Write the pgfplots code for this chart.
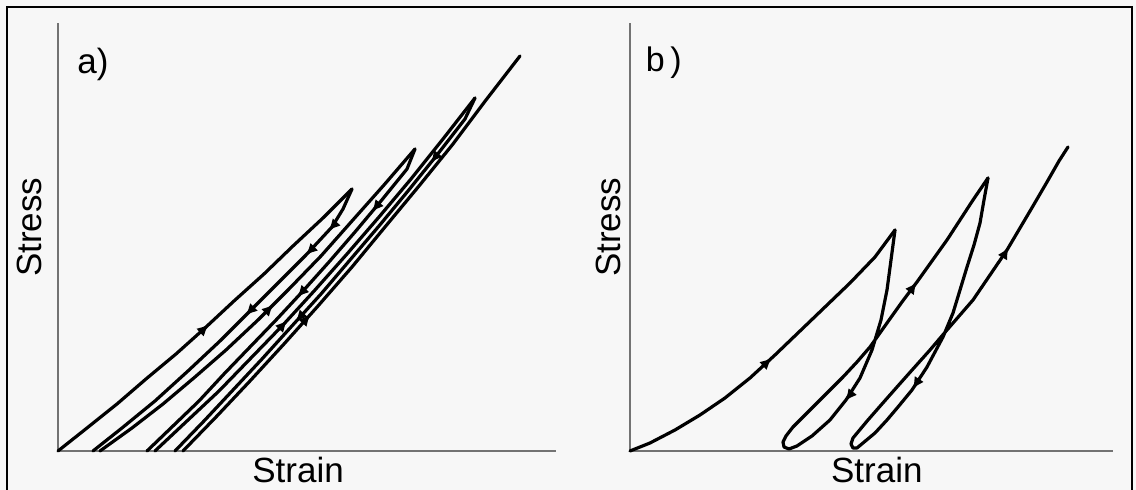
\documentclass[border=0pt]{standalone}
\usepackage{pgfplots}
\pgfplotsset{compat=1.18}
\usepackage{fontspec}
\setmainfont{Liberation Sans}
\usetikzlibrary{decorations.markings,arrows.meta}
\tikzset{myarr/.tip={Latex[length=6pt,width=5.5pt]}}
\pgfplotsset{
  panel/.style={
    scale only axis, height=214pt,
    ymin=0, ymax=428,
    axis x line=bottom, axis y line=left,
    axis line style={-, black!55, line width=0.8pt},
    xtick=\empty, ytick=\empty, clip=false,
    label style={font=\fontsize{17.5}{21}\selectfont},
  },
  curve/.style={black, line width=1.6pt, line join=round, line cap=round, mark=none},
}
\begin{document}
\begin{tikzpicture}[x=0.5pt,y=0.5pt]
\fill[white!97!black] (0,0) rectangle (1136,490);
\path[use as bounding box] (0,0) rectangle (1136,490);
\draw[line width=1.1pt] (7,-5) -- (7,483) -- (1132,483) -- (1132,-5);

% ---------------- panel a ----------------
\begin{axis}[panel, at={(29pt,19.5pt)}, anchor=south west,
  width=249pt, xmin=0, xmax=498,
  xlabel={Strain}, ylabel={Stress},
  xlabel style={at={(axis description cs:0.482,-0.044)}, anchor=center},
  ylabel style={at={(axis description cs:-0.058,0.523)}, anchor=center}]
\node[font=\fontsize{17.5}{21}\selectfont] at (axis description cs:0.070,0.902) {a)};
% loading from origin
\addplot[curve, postaction={decorate}, decoration={markings,
  mark=at position 0.5 with {\arrow{myarr}}}] coordinates {
(0,0)(29,23)(59,47)(88,72)(118,97)(147,123)(176,150)(206,177)(235,205)(265,233)(294,262)};
% unloading 1
\addplot[curve, postaction={decorate}, decoration={markings,
  mark=at position 0.13 with {\arrow{myarr}},
  mark=at position 0.22 with {\arrow{myarr}},
  mark=at position 0.45 with {\arrow{myarr}}}] coordinates {
(294,262)(285,242)(274,224)(248,196)(218,166)(190,138)(162,110)(130,80)(97,50)(64,23)(35,0)};
% reloading 1
\addplot[curve, postaction={decorate}, decoration={markings,
  mark=at position 0.52 with {\arrow{myarr}}}] coordinates {
(42,0)(74,23)(105,47)(137,74)(168,101)(200,131)(231,162)(263,195)(294,230)(326,266)(357,302)};
% unloading 2
\addplot[curve, postaction={decorate}, decoration={markings,
  mark=at position 0.19 with {\arrow{myarr}},
  mark=at position 0.47 with {\arrow{myarr}}}] coordinates {
(357,302)(349,282)(323,250)(297,219)(271,189)(245,160)(219,132)(192,104)(166,77)(141,50)(115,25)(89,0)};
% reloading 2
\addplot[curve, postaction={decorate}, decoration={markings,
  mark=at position 0.39 with {\arrow{myarr}}}] coordinates {
(97,0)(129,30)(161,60)(193,93)(225,126)(257,161)(289,197)(321,234)(353,272)(385,312)(417,353)};
% unloading 3
\addplot[curve, postaction={decorate}, decoration={markings,
  mark=at position 0.17 with {\arrow{myarr}},
  mark=at position 0.62 with {\arrow{myarr}}}] coordinates {
(417,353)(407,332)(379,296)(350,260)(321,225)(292,191)(263,157)(233,124)(204,92)(175,61)(146,30)(117,0)};
% reloading 3
\addplot[curve, postaction={decorate}, decoration={markings,
  mark=at position 0.36 with {\arrow{myarr}}}] coordinates {
(125,0)(159,35)(192,70)(226,107)(260,145)(294,184)(327,224)(361,265)(395,307)(428,351)(462,395)};
\end{axis}

% ---------------- panel b ----------------
\begin{axis}[panel, at={(315pt,19.5pt)}, anchor=south west,
  width=241.5pt, xmin=0, xmax=483,
  xlabel={Strain}, ylabel={Stress},
  xlabel style={at={(axis description cs:0.511,-0.044)}, anchor=center},
  ylabel style={at={(axis description cs:-0.0455,0.523)}, anchor=center}]
\node[font=\fontsize{17}{20}\selectfont] at (axis description cs:0.070,0.907) {b\,)};
\addplot[curve, postaction={decorate}, decoration={markings,
  mark=at position 0.49 with {\arrow{myarr}}}] coordinates {
(0,0)(20,8)(45,21)(70,36)(95,53)(120,73)(145,96)(170,120)(195,144)(220,168)(245,194)(265,221)};
\addplot[curve, postaction={decorate}, decoration={markings,
  mark=at position 0.30 with {\arrow{myarr}},
  mark=at position 0.79 with {\arrow{myarr}}}] coordinates {
(265,221)(261,191)(257,161)(251,131)(242,101)(230,73)(216,51)(200,31)(182,15)(167,5)(159,2)(154,4)(153,9)(156,15)(163,24)(175,36)(187,48)(200,61)(213,74)(227,89)(240,104)(257,128)(272,149)(287,169)(302,190)(317,211)(330,231)(343,251)(358,273)};
\addplot[curve, postaction={decorate}, decoration={markings,
  mark=at position 0.33 with {\arrow{myarr}},
  mark=at position 0.83 with {\arrow{myarr}}}] coordinates {
(358,273)(354,251)(350,228)(344,206)(337,184)(330,161)(323,138)(313,114)(297,84)(282,61)(268,44)(257,31)(245,18)(233,8)(227,3)(223,3)(221,7)(223,13)(228,19)(238,31)(252,47)(267,64)(283,82)(300,101)(317,121)(330,136)(343,151)(360,176)(377,201)(390,223)(403,245)(417,269)(429,290)(438,304)};
\end{axis}
\end{tikzpicture}
\end{document}
